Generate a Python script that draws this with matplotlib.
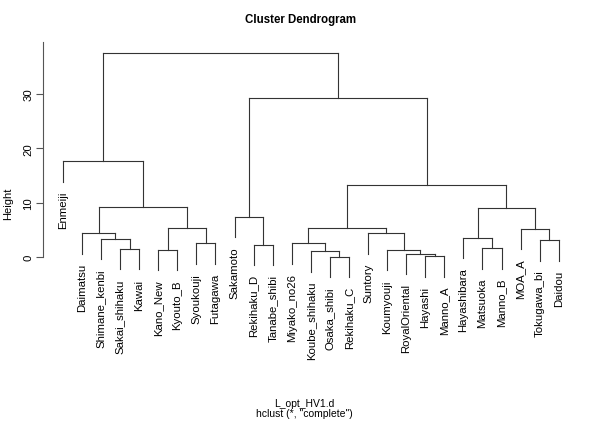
import matplotlib
matplotlib.use("Agg")
import matplotlib.pyplot as plt

plt.rcParams["font.family"] = ["Liberation Sans", "DejaVu Sans"]

# leaves in plotting order
labels = ["Enmeiji", "Daimatsu", "Shimane_kenbi", "Sakai_shihaku", "Kawai",
          "Kano_New", "Kyouto_B", "Syoukouji", "Futagawa", "Sakamoto",
          "Rekihaku_D", "Tanabe_shibi", "Miyako_no26", "Koube_shihaku",
          "Osaka_shibi", "Rekihaku_C", "Suntory", "Koumyouji", "RoyalOriental",
          "Hayashi", "Manno_A", "Hayashibara", "Matsuoka", "Manno_B", "MOA_A",
          "Tokugawa_bi", "Daidou"]

# R style merge matrix: negative = leaf (1-based), positive = earlier merge
merge_left = [-15, -20, -19, -14, -18, -6, -4, -23, -11, -8, -13, -26, -3,
              -22, -2, -17, -25, 11, 6, -10, 14, 15, 18, -1, 20, 24]
merge_right = [-16, -21, 2, 1, 3, -7, -5, -24, -12, -9, 4, -27, 7,
               8, 13, 5, 12, 16, 10, 9, 17, 19, 21, 22, 23, 25]
merge_height = [0.05, 0.15, 0.55, 1.05, 1.3, 1.3, 1.45, 1.6, 2.3, 2.5, 2.5,
                3.1, 3.35, 3.5, 4.35, 4.35, 5.15, 5.25, 5.35, 7.4, 9.1, 9.15,
                13.3, 17.6, 29.3, 37.5]

hang = 0.1 * (max(merge_height) - min(merge_height))

fig = plt.figure(figsize=(6, 4.27), dpi=100)
W, H = 600, 427
# axes placed in pixel terms: left 43, right 578.6, top 40, bottom 300
ax = fig.add_axes([43 / W, 1 - 300 / H, (578.6 - 43) / W, (300 - 40) / H])
n = len(labels)
ax.set_xlim(1 - 0.04 * (n - 1), n + 0.04 * (n - 1))
ax.set_ylim(-7.73, 40.12)

col = "#333333"
lw = 0.8
node_x = {}
for k in range(len(merge_height)):
    h = merge_height[k]
    xs = []
    for c in (merge_left[k], merge_right[k]):
        if c < 0:
            x = -c
            bottom = h - hang
            ax.plot([x, x], [h, bottom], color=col, lw=lw)
            ax.annotate(labels[x - 1], (x, bottom), xytext=(0, -6.5),
                        textcoords="offset points", rotation=90,
                        ha="center", va="top", fontsize=8.2)
        else:
            x = node_x[c]
            ax.plot([x, x], [h, merge_height[c - 1]], color=col, lw=lw)
        xs.append(x)
    ax.plot(xs, [h, h], color=col, lw=lw)
    node_x[k + 1] = (xs[0] + xs[1]) / 2

for s in ["top", "right", "bottom"]:
    ax.spines[s].set_visible(False)
ax.spines["left"].set_bounds(0, 39.6)
ax.spines["left"].set_color("#555555")
ax.spines["left"].set_linewidth(0.8)
ax.set_xticks([])
ax.set_yticks([0, 10, 20, 30])
ax.tick_params(axis="y", length=5, width=0.8, color="#555555",
               labelsize=8.2, pad=2)
for t in ax.get_yticklabels():
    t.set_rotation(90)
    t.set_va("center")

fig.text(8 / W, 1 - 204 / H, "Height", rotation=90, ha="center", va="center",
         fontsize=8)
fig.text(301 / W, 1 - 20 / H, "Cluster Dendrogram", ha="center", va="center",
         fontsize=8.3, fontweight="bold")
fig.text(304 / W, 1 - 404 / H, "L_opt_HV1.d", ha="center", va="center",
         fontsize=7.5)
fig.text(304 / W, 1 - 414 / H, 'hclust (*, "complete")', ha="center",
         va="center", fontsize=7.5)

fig.savefig("out.png", dpi=100)
